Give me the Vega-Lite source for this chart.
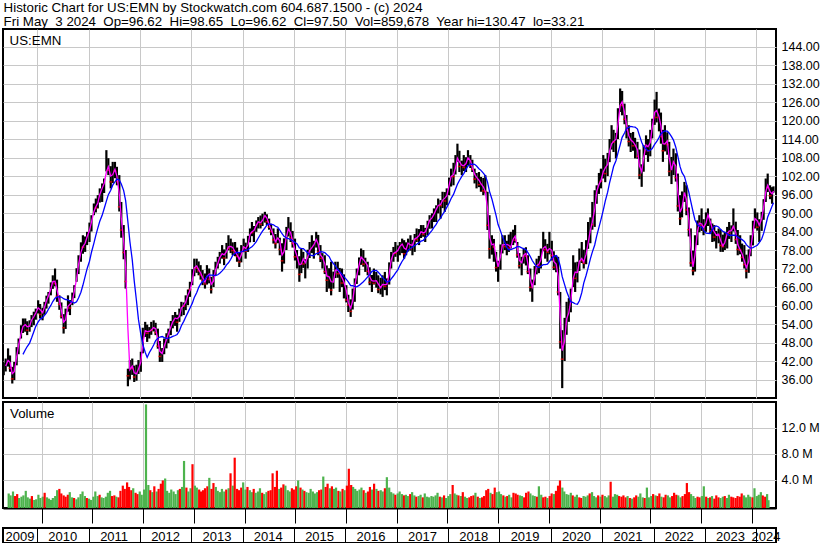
{
"$schema":"https://vega.github.io/schema/vega-lite/v6.json",
"background":"white",
"padding":{"left":1,"top":0,"right":0,"bottom":0},
"spacing":2,
"title":{"text":["Historic Chart for US:EMN by Stockwatch.com 604.687.1500 - (c) 2024","Fri May\u00a0 3 2024\u00a0 Op=96.62\u00a0 Hi=98.65\u00a0 Lo=96.62\u00a0 Cl=97.50\u00a0 Vol=859,678\u00a0 Year hi=130.47\u00a0 lo=33.21"],"anchor":"start","font":"Liberation Sans","fontSize":13.3,"fontWeight":"normal","color":"black","lineHeight":14,"offset":0,"dx":2},
"config":{"view":{"stroke":"black","strokeWidth":2},"axis":{"labelFont":"Liberation Sans","labelFontSize":12.5,"labelColor":"black","labelOverlap":false,"title":null,"gridColor":"#c8c8c8","gridWidth":1,"gridOpacity":1}},
"datasets":{
"px":[
{"d":"2009-05-08","h":41.5,"l":37.4,"c":39.8,"v":1.9,"t":"u"},
{"d":"2009-05-22","h":42.8,"l":38.6,"c":40.9,"v":1.6,"t":"u"},
{"d":"2009-06-08","h":46.1,"l":40.2,"c":43.5,"v":2.2,"t":"u"},
{"d":"2009-06-22","h":43.8,"l":38.5,"c":39.6,"v":1.5,"t":"d"},
{"d":"2009-07-08","h":40.1,"l":34.7,"c":36.2,"v":1.8,"t":"d"},
{"d":"2009-07-22","h":41.7,"l":35.8,"c":40.8,"v":1.2,"t":"u"},
{"d":"2009-08-08","h":46.5,"l":40.6,"c":45.8,"v":1.4,"t":"u"},
{"d":"2009-08-22","h":49.3,"l":44.2,"c":48.6,"v":1.6,"t":"u"},
{"d":"2009-09-08","h":53.6,"l":49.3,"c":52.9,"v":2.3,"t":"u"},
{"d":"2009-09-22","h":55.8,"l":51.1,"c":53.4,"v":1.3,"t":"u"},
{"d":"2009-10-08","h":55.8,"l":51.5,"c":54.2,"v":1.1,"t":"u"},
{"d":"2009-10-22","h":54.9,"l":50.4,"c":52.0,"v":1.5,"t":"d"},
{"d":"2009-11-08","h":55.2,"l":51.5,"c":54.6,"v":0.9,"t":"u"},
{"d":"2009-11-22","h":56.9,"l":53.0,"c":55.9,"v":1.0,"t":"u"},
{"d":"2009-12-08","h":58.0,"l":53.6,"c":56.8,"v":1.7,"t":"u"},
{"d":"2009-12-22","h":59.0,"l":55.4,"c":58.3,"v":1.2,"t":"u"},
{"d":"2010-01-08","h":61.7,"l":57.4,"c":60.2,"v":1.4,"t":"u"},
{"d":"2010-01-22","h":60.5,"l":55.8,"c":57.1,"v":2.0,"t":"d"},
{"d":"2010-02-08","h":59.3,"l":55.2,"c":58.2,"v":1.3,"t":"u"},
{"d":"2010-02-22","h":61.2,"l":57.0,"c":60.6,"v":1.1,"t":"u"},
{"d":"2010-03-08","h":63.2,"l":59.0,"c":62.5,"v":0.9,"t":"u"},
{"d":"2010-03-22","h":64.4,"l":60.6,"c":63.8,"v":1.2,"t":"u"},
{"d":"2010-04-08","h":67.5,"l":63.3,"c":66.9,"v":1.5,"t":"u"},
{"d":"2010-04-22","h":69.8,"l":65.4,"c":68.6,"v":2.4,"t":"u"},
{"d":"2010-05-08","h":72.0,"l":66.2,"c":67.1,"v":2.6,"t":"d"},
{"d":"2010-05-22","h":68.4,"l":61.2,"c":63.0,"v":1.9,"t":"d"},
{"d":"2010-06-08","h":63.3,"l":58.6,"c":60.4,"v":1.6,"t":"d"},
{"d":"2010-06-22","h":61.0,"l":55.8,"c":56.5,"v":1.4,"t":"d"},
{"d":"2010-07-08","h":57.2,"l":50.9,"c":52.8,"v":1.7,"t":"d"},
{"d":"2010-07-22","h":59.0,"l":52.4,"c":57.9,"v":2.1,"t":"u"},
{"d":"2010-08-08","h":63.3,"l":58.0,"c":61.6,"v":1.3,"t":"u"},
{"d":"2010-08-22","h":61.8,"l":56.9,"c":59.2,"v":1.2,"t":"d"},
{"d":"2010-09-08","h":64.2,"l":60.1,"c":63.5,"v":1.0,"t":"u"},
{"d":"2010-09-22","h":66.6,"l":62.4,"c":65.8,"v":1.3,"t":"u"},
{"d":"2010-10-08","h":72.1,"l":67.7,"c":71.4,"v":1.8,"t":"u"},
{"d":"2010-10-22","h":76.3,"l":70.2,"c":75.2,"v":2.2,"t":"u"},
{"d":"2010-11-08","h":80.5,"l":74.2,"c":79.3,"v":1.5,"t":"u"},
{"d":"2010-11-22","h":82.8,"l":76.8,"c":78.9,"v":1.2,"t":"d"},
{"d":"2010-12-08","h":82.4,"l":77.4,"c":81.5,"v":1.1,"t":"u"},
{"d":"2010-12-22","h":83.9,"l":79.6,"c":83.1,"v":0.9,"t":"u"},
{"d":"2011-01-08","h":86.9,"l":80.6,"c":85.7,"v":1.4,"t":"u"},
{"d":"2011-01-22","h":89.3,"l":84.0,"c":88.4,"v":2.2,"t":"u"},
{"d":"2011-02-08","h":93.1,"l":89.3,"c":92.5,"v":1.5,"t":"u"},
{"d":"2011-02-22","h":94.7,"l":90.2,"c":91.6,"v":1.7,"t":"d"},
{"d":"2011-03-08","h":95.8,"l":91.5,"c":94.9,"v":1.3,"t":"u"},
{"d":"2011-03-22","h":98.0,"l":93.4,"c":97.2,"v":1.2,"t":"u"},
{"d":"2011-04-08","h":99.6,"l":93.6,"c":98.8,"v":1.4,"t":"u"},
{"d":"2011-04-22","h":101.2,"l":96.5,"c":100.4,"v":2.0,"t":"u"},
{"d":"2011-05-08","h":110.4,"l":103.5,"c":106.2,"v":2.3,"t":"u"},
{"d":"2011-05-22","h":107.8,"l":102.3,"c":103.9,"v":1.5,"t":"d"},
{"d":"2011-06-08","h":105.2,"l":98.0,"c":100.1,"v":1.6,"t":"d"},
{"d":"2011-06-22","h":106.6,"l":99.7,"c":104.8,"v":1.4,"t":"u"},
{"d":"2011-07-08","h":106.6,"l":101.3,"c":103.6,"v":1.3,"t":"d"},
{"d":"2011-07-22","h":105.0,"l":99.0,"c":100.2,"v":2.3,"t":"d"},
{"d":"2011-08-08","h":102.3,"l":90.5,"c":92.0,"v":3.1,"t":"d"},
{"d":"2011-08-22","h":93.6,"l":82.0,"c":84.5,"v":2.6,"t":"d"},
{"d":"2011-09-08","h":86.1,"l":75.0,"c":77.2,"v":3.6,"t":"d"},
{"d":"2011-09-22","h":78.0,"l":65.5,"c":67.8,"v":2.9,"t":"d"},
{"d":"2011-10-08","h":39.5,"l":33.8,"c":37.2,"v":2.4,"t":"d"},
{"d":"2011-10-22","h":42.3,"l":36.0,"c":41.1,"v":2.7,"t":"u"},
{"d":"2011-11-08","h":42.8,"l":37.5,"c":39.6,"v":2.0,"t":"d"},
{"d":"2011-11-22","h":40.5,"l":35.2,"c":36.8,"v":1.8,"t":"d"},
{"d":"2011-12-08","h":40.8,"l":35.6,"c":38.9,"v":2.2,"t":"u"},
{"d":"2011-12-22","h":42.3,"l":37.8,"c":39.8,"v":1.7,"t":"u"},
{"d":"2012-01-08","h":45.0,"l":38.5,"c":43.6,"v":2.5,"t":"u"},
{"d":"2012-01-22","h":52.8,"l":44.5,"c":51.6,"v":15.6,"t":"u"},
{"d":"2012-02-08","h":54.7,"l":49.8,"c":52.1,"v":3.2,"t":"u"},
{"d":"2012-02-22","h":53.8,"l":48.2,"c":51.0,"v":2.4,"t":"d"},
{"d":"2012-03-08","h":53.0,"l":49.3,"c":52.2,"v":2.1,"t":"u"},
{"d":"2012-03-22","h":54.7,"l":50.5,"c":51.9,"v":3.0,"t":"d"},
{"d":"2012-04-08","h":55.2,"l":51.6,"c":53.8,"v":2.2,"t":"u"},
{"d":"2012-04-22","h":54.4,"l":50.4,"c":51.2,"v":2.6,"t":"d"},
{"d":"2012-05-08","h":52.5,"l":46.0,"c":46.8,"v":3.4,"t":"d"},
{"d":"2012-05-22","h":48.5,"l":41.7,"c":43.5,"v":3.9,"t":"d"},
{"d":"2012-06-08","h":46.2,"l":41.7,"c":45.4,"v":4.2,"t":"u"},
{"d":"2012-06-22","h":49.3,"l":44.2,"c":48.1,"v":2.3,"t":"u"},
{"d":"2012-07-08","h":51.0,"l":46.1,"c":49.7,"v":2.0,"t":"u"},
{"d":"2012-07-22","h":52.5,"l":47.8,"c":51.8,"v":2.5,"t":"u"},
{"d":"2012-08-08","h":55.0,"l":50.4,"c":54.3,"v":2.2,"t":"u"},
{"d":"2012-08-22","h":56.9,"l":52.6,"c":55.1,"v":1.8,"t":"u"},
{"d":"2012-09-08","h":57.9,"l":53.4,"c":56.8,"v":2.4,"t":"u"},
{"d":"2012-09-22","h":57.0,"l":51.5,"c":54.6,"v":2.6,"t":"d"},
{"d":"2012-10-08","h":59.0,"l":54.7,"c":58.1,"v":2.9,"t":"u"},
{"d":"2012-10-22","h":61.2,"l":56.5,"c":60.3,"v":6.9,"t":"u"},
{"d":"2012-11-08","h":61.0,"l":56.9,"c":59.8,"v":2.8,"t":"d"},
{"d":"2012-11-22","h":63.3,"l":58.5,"c":62.4,"v":2.2,"t":"u"},
{"d":"2012-12-08","h":65.2,"l":60.1,"c":64.5,"v":2.7,"t":"u"},
{"d":"2012-12-22","h":67.7,"l":62.8,"c":65.2,"v":6.4,"t":"d"},
{"d":"2013-01-08","h":71.8,"l":66.6,"c":70.9,"v":3.1,"t":"u"},
{"d":"2013-01-22","h":75.2,"l":69.5,"c":73.6,"v":2.8,"t":"u"},
{"d":"2013-02-08","h":75.2,"l":70.6,"c":72.1,"v":2.5,"t":"d"},
{"d":"2013-02-22","h":74.3,"l":69.8,"c":71.2,"v":2.2,"t":"d"},
{"d":"2013-03-08","h":73.1,"l":68.4,"c":69.9,"v":2.4,"t":"d"},
{"d":"2013-03-22","h":71.5,"l":66.6,"c":68.2,"v":2.7,"t":"d"},
{"d":"2013-04-08","h":70.4,"l":65.5,"c":67.0,"v":3.0,"t":"d"},
{"d":"2013-04-22","h":73.1,"l":66.8,"c":71.9,"v":4.3,"t":"u"},
{"d":"2013-05-08","h":72.0,"l":67.2,"c":68.5,"v":2.6,"t":"d"},
{"d":"2013-05-22","h":69.3,"l":63.9,"c":65.2,"v":3.5,"t":"d"},
{"d":"2013-06-08","h":71.5,"l":66.0,"c":70.6,"v":2.9,"t":"u"},
{"d":"2013-06-22","h":74.2,"l":69.8,"c":72.3,"v":2.3,"t":"u"},
{"d":"2013-07-08","h":75.8,"l":72.0,"c":75.0,"v":2.1,"t":"u"},
{"d":"2013-07-22","h":77.4,"l":73.6,"c":76.1,"v":2.6,"t":"u"},
{"d":"2013-08-08","h":79.6,"l":75.2,"c":77.5,"v":2.2,"t":"u"},
{"d":"2013-08-22","h":78.2,"l":73.1,"c":75.4,"v":2.5,"t":"d"},
{"d":"2013-09-08","h":80.3,"l":75.2,"c":79.6,"v":2.7,"t":"u"},
{"d":"2013-09-22","h":82.8,"l":77.9,"c":78.5,"v":5.0,"t":"d"},
{"d":"2013-10-08","h":81.7,"l":77.0,"c":79.9,"v":3.1,"t":"u"},
{"d":"2013-10-22","h":80.5,"l":76.3,"c":77.8,"v":7.4,"t":"d"},
{"d":"2013-11-08","h":80.6,"l":76.0,"c":77.1,"v":2.6,"t":"d"},
{"d":"2013-11-22","h":78.8,"l":74.2,"c":75.9,"v":2.4,"t":"d"},
{"d":"2013-12-08","h":77.2,"l":72.5,"c":74.1,"v":2.8,"t":"d"},
{"d":"2013-12-22","h":79.6,"l":74.0,"c":78.7,"v":3.6,"t":"u"},
{"d":"2014-01-08","h":81.7,"l":77.3,"c":79.4,"v":2.5,"t":"u"},
{"d":"2014-01-22","h":80.4,"l":75.2,"c":77.6,"v":2.9,"t":"d"},
{"d":"2014-02-08","h":82.6,"l":77.4,"c":81.8,"v":2.4,"t":"u"},
{"d":"2014-02-22","h":85.0,"l":80.5,"c":84.3,"v":2.1,"t":"u"},
{"d":"2014-03-08","h":87.1,"l":82.5,"c":83.6,"v":2.6,"t":"d"},
{"d":"2014-03-22","h":85.8,"l":80.6,"c":85.1,"v":2.0,"t":"u"},
{"d":"2014-04-08","h":87.6,"l":83.9,"c":86.9,"v":2.2,"t":"u"},
{"d":"2014-04-22","h":88.7,"l":85.0,"c":87.4,"v":2.7,"t":"u"},
{"d":"2014-05-08","h":89.2,"l":85.0,"c":86.3,"v":2.0,"t":"d"},
{"d":"2014-05-22","h":89.8,"l":85.8,"c":88.9,"v":1.8,"t":"u"},
{"d":"2014-06-08","h":90.4,"l":86.9,"c":89.5,"v":2.1,"t":"u"},
{"d":"2014-06-22","h":89.6,"l":86.1,"c":87.2,"v":2.3,"t":"d"},
{"d":"2014-07-08","h":88.2,"l":84.6,"c":85.4,"v":2.4,"t":"d"},
{"d":"2014-07-22","h":86.5,"l":82.8,"c":84.0,"v":5.0,"t":"d"},
{"d":"2014-08-08","h":85.0,"l":80.1,"c":81.3,"v":2.9,"t":"d"},
{"d":"2014-08-22","h":83.2,"l":78.5,"c":80.1,"v":5.4,"t":"d"},
{"d":"2014-09-08","h":85.0,"l":80.2,"c":83.8,"v":2.6,"t":"u"},
{"d":"2014-09-22","h":82.0,"l":76.3,"c":78.2,"v":2.8,"t":"d"},
{"d":"2014-10-08","h":80.2,"l":71.0,"c":74.5,"v":3.3,"t":"d"},
{"d":"2014-10-22","h":81.8,"l":73.6,"c":80.5,"v":3.1,"t":"u"},
{"d":"2014-11-08","h":85.5,"l":78.0,"c":84.2,"v":2.4,"t":"u"},
{"d":"2014-11-22","h":88.7,"l":82.4,"c":85.3,"v":2.2,"t":"u"},
{"d":"2014-12-08","h":87.0,"l":80.6,"c":81.9,"v":2.7,"t":"d"},
{"d":"2014-12-22","h":84.2,"l":78.8,"c":80.1,"v":2.5,"t":"d"},
{"d":"2015-01-08","h":81.7,"l":74.6,"c":75.8,"v":3.0,"t":"d"},
{"d":"2015-01-22","h":78.0,"l":72.0,"c":76.4,"v":3.9,"t":"u"},
{"d":"2015-02-08","h":76.0,"l":67.7,"c":70.1,"v":2.8,"t":"d"},
{"d":"2015-02-22","h":78.5,"l":70.5,"c":76.8,"v":2.5,"t":"u"},
{"d":"2015-03-08","h":77.4,"l":72.2,"c":73.5,"v":2.3,"t":"d"},
{"d":"2015-03-22","h":75.0,"l":68.8,"c":74.3,"v":2.1,"t":"u"},
{"d":"2015-04-08","h":78.1,"l":72.0,"c":77.2,"v":2.0,"t":"u"},
{"d":"2015-04-22","h":80.6,"l":75.4,"c":78.5,"v":2.6,"t":"u"},
{"d":"2015-05-08","h":82.8,"l":77.0,"c":79.1,"v":2.2,"t":"u"},
{"d":"2015-05-22","h":81.0,"l":75.2,"c":80.2,"v":1.9,"t":"u"},
{"d":"2015-06-08","h":83.9,"l":78.8,"c":82.6,"v":2.1,"t":"u"},
{"d":"2015-06-22","h":82.9,"l":76.3,"c":77.4,"v":2.4,"t":"d"},
{"d":"2015-07-08","h":79.6,"l":74.1,"c":75.3,"v":2.5,"t":"d"},
{"d":"2015-07-22","h":77.0,"l":72.0,"c":76.0,"v":4.5,"t":"u"},
{"d":"2015-08-08","h":76.3,"l":70.2,"c":71.0,"v":2.9,"t":"d"},
{"d":"2015-08-22","h":73.0,"l":64.4,"c":68.2,"v":3.4,"t":"d"},
{"d":"2015-09-08","h":72.1,"l":65.5,"c":70.4,"v":2.7,"t":"u"},
{"d":"2015-09-22","h":74.2,"l":63.3,"c":65.0,"v":3.0,"t":"d"},
{"d":"2015-10-08","h":71.0,"l":65.5,"c":70.2,"v":2.6,"t":"u"},
{"d":"2015-10-22","h":74.2,"l":68.9,"c":72.8,"v":2.8,"t":"u"},
{"d":"2015-11-08","h":74.2,"l":69.0,"c":70.3,"v":2.3,"t":"d"},
{"d":"2015-11-22","h":72.2,"l":64.4,"c":70.8,"v":2.2,"t":"u"},
{"d":"2015-12-08","h":72.0,"l":66.0,"c":67.3,"v":2.6,"t":"d"},
{"d":"2015-12-22","h":70.1,"l":62.3,"c":67.9,"v":2.4,"t":"u"},
{"d":"2016-01-08","h":66.6,"l":61.0,"c":61.8,"v":3.1,"t":"d"},
{"d":"2016-01-22","h":63.5,"l":57.9,"c":60.2,"v":5.7,"t":"d"},
{"d":"2016-02-08","h":62.0,"l":56.3,"c":58.1,"v":3.2,"t":"d"},
{"d":"2016-02-22","h":65.5,"l":58.7,"c":64.8,"v":2.9,"t":"u"},
{"d":"2016-03-08","h":68.8,"l":61.2,"c":68.0,"v":2.6,"t":"u"},
{"d":"2016-03-22","h":72.0,"l":67.0,"c":71.4,"v":2.3,"t":"u"},
{"d":"2016-04-08","h":75.6,"l":69.8,"c":74.9,"v":2.5,"t":"u"},
{"d":"2016-04-22","h":78.5,"l":73.2,"c":76.5,"v":2.8,"t":"u"},
{"d":"2016-05-08","h":78.0,"l":72.6,"c":73.4,"v":2.4,"t":"d"},
{"d":"2016-05-22","h":75.5,"l":70.9,"c":74.7,"v":2.0,"t":"u"},
{"d":"2016-06-08","h":74.2,"l":69.8,"c":71.1,"v":2.2,"t":"d"},
{"d":"2016-06-22","h":72.4,"l":66.6,"c":67.5,"v":2.9,"t":"d"},
{"d":"2016-07-08","h":69.9,"l":64.4,"c":68.6,"v":2.5,"t":"u"},
{"d":"2016-07-22","h":72.0,"l":66.8,"c":67.2,"v":3.4,"t":"d"},
{"d":"2016-08-08","h":70.9,"l":65.8,"c":68.9,"v":2.6,"t":"u"},
{"d":"2016-08-22","h":69.8,"l":64.0,"c":65.2,"v":2.3,"t":"d"},
{"d":"2016-09-08","h":69.0,"l":63.6,"c":66.4,"v":2.4,"t":"u"},
{"d":"2016-09-22","h":69.8,"l":62.8,"c":67.3,"v":2.2,"t":"u"},
{"d":"2016-10-08","h":70.9,"l":65.0,"c":66.2,"v":2.7,"t":"d"},
{"d":"2016-10-22","h":68.8,"l":63.3,"c":67.5,"v":4.4,"t":"u"},
{"d":"2016-11-08","h":74.0,"l":66.8,"c":73.2,"v":2.8,"t":"u"},
{"d":"2016-11-22","h":77.4,"l":72.0,"c":76.2,"v":2.1,"t":"u"},
{"d":"2016-12-08","h":79.0,"l":74.2,"c":77.6,"v":1.9,"t":"u"},
{"d":"2016-12-22","h":80.6,"l":75.8,"c":76.9,"v":1.7,"t":"d"},
{"d":"2017-01-08","h":79.5,"l":74.2,"c":78.8,"v":1.9,"t":"u"},
{"d":"2017-01-22","h":80.6,"l":76.3,"c":79.4,"v":2.2,"t":"u"},
{"d":"2017-02-08","h":81.7,"l":77.0,"c":80.5,"v":1.8,"t":"u"},
{"d":"2017-02-22","h":81.2,"l":75.2,"c":76.8,"v":1.6,"t":"d"},
{"d":"2017-03-08","h":80.5,"l":76.3,"c":79.6,"v":1.7,"t":"u"},
{"d":"2017-03-22","h":81.7,"l":77.5,"c":80.9,"v":1.5,"t":"u"},
{"d":"2017-04-08","h":82.8,"l":77.8,"c":78.4,"v":1.8,"t":"d"},
{"d":"2017-04-22","h":81.3,"l":76.3,"c":80.7,"v":2.1,"t":"u"},
{"d":"2017-05-08","h":83.2,"l":77.4,"c":82.5,"v":1.6,"t":"u"},
{"d":"2017-05-22","h":85.0,"l":80.6,"c":81.4,"v":1.4,"t":"d"},
{"d":"2017-06-08","h":84.8,"l":79.6,"c":83.9,"v":1.5,"t":"u"},
{"d":"2017-06-22","h":86.1,"l":81.9,"c":84.0,"v":1.7,"t":"u"},
{"d":"2017-07-08","h":86.1,"l":82.3,"c":83.1,"v":1.3,"t":"d"},
{"d":"2017-07-22","h":85.2,"l":80.6,"c":84.6,"v":1.9,"t":"u"},
{"d":"2017-08-08","h":87.5,"l":82.8,"c":86.8,"v":1.4,"t":"u"},
{"d":"2017-08-22","h":89.3,"l":84.9,"c":88.4,"v":1.3,"t":"u"},
{"d":"2017-09-08","h":89.9,"l":85.0,"c":88.5,"v":1.5,"t":"u"},
{"d":"2017-09-22","h":91.5,"l":87.1,"c":90.6,"v":1.4,"t":"u"},
{"d":"2017-10-08","h":92.5,"l":87.1,"c":91.8,"v":1.6,"t":"u"},
{"d":"2017-10-22","h":94.7,"l":89.9,"c":93.1,"v":2.0,"t":"u"},
{"d":"2017-11-08","h":94.2,"l":88.2,"c":92.4,"v":1.4,"t":"d"},
{"d":"2017-11-22","h":96.9,"l":91.6,"c":95.8,"v":1.3,"t":"u"},
{"d":"2017-12-08","h":96.8,"l":90.4,"c":93.9,"v":1.6,"t":"d"},
{"d":"2017-12-22","h":98.0,"l":92.5,"c":97.2,"v":1.2,"t":"u"},
{"d":"2018-01-08","h":101.5,"l":95.8,"c":100.7,"v":1.5,"t":"u"},
{"d":"2018-01-22","h":104.4,"l":98.6,"c":103.1,"v":1.8,"t":"u"},
{"d":"2018-02-08","h":106.3,"l":99.0,"c":101.8,"v":3.2,"t":"d"},
{"d":"2018-02-22","h":108.8,"l":102.5,"c":107.4,"v":1.9,"t":"u"},
{"d":"2018-03-08","h":112.5,"l":106.6,"c":108.2,"v":1.7,"t":"u"},
{"d":"2018-03-22","h":110.2,"l":103.3,"c":105.1,"v":1.6,"t":"d"},
{"d":"2018-04-08","h":107.0,"l":102.3,"c":105.9,"v":1.5,"t":"u"},
{"d":"2018-04-22","h":108.8,"l":103.6,"c":104.8,"v":2.1,"t":"d"},
{"d":"2018-05-08","h":108.1,"l":103.3,"c":107.3,"v":1.4,"t":"u"},
{"d":"2018-05-22","h":110.4,"l":105.4,"c":108.6,"v":1.2,"t":"u"},
{"d":"2018-06-08","h":108.8,"l":104.6,"c":105.5,"v":1.3,"t":"d"},
{"d":"2018-06-22","h":107.3,"l":103.3,"c":104.2,"v":1.5,"t":"d"},
{"d":"2018-07-08","h":104.4,"l":99.6,"c":101.0,"v":1.6,"t":"d"},
{"d":"2018-07-22","h":103.0,"l":98.0,"c":102.1,"v":2.0,"t":"u"},
{"d":"2018-08-08","h":103.3,"l":98.4,"c":99.2,"v":1.4,"t":"d"},
{"d":"2018-08-22","h":101.7,"l":96.9,"c":99.8,"v":1.2,"t":"u"},
{"d":"2018-09-08","h":101.4,"l":95.8,"c":97.2,"v":1.3,"t":"d"},
{"d":"2018-09-22","h":102.3,"l":96.4,"c":96.9,"v":1.5,"t":"d"},
{"d":"2018-10-08","h":96.9,"l":84.5,"c":86.0,"v":2.4,"t":"d"},
{"d":"2018-10-22","h":89.3,"l":75.2,"c":78.4,"v":2.6,"t":"d"},
{"d":"2018-11-08","h":82.8,"l":76.5,"c":80.9,"v":2.0,"t":"u"},
{"d":"2018-11-22","h":81.6,"l":74.2,"c":79.0,"v":1.8,"t":"d"},
{"d":"2018-12-08","h":77.4,"l":71.0,"c":72.3,"v":2.8,"t":"d"},
{"d":"2018-12-22","h":74.5,"l":67.7,"c":72.8,"v":2.1,"t":"u"},
{"d":"2019-01-08","h":79.8,"l":71.6,"c":78.9,"v":2.2,"t":"u"},
{"d":"2019-01-22","h":82.8,"l":76.9,"c":80.4,"v":1.8,"t":"u"},
{"d":"2019-02-08","h":82.8,"l":78.0,"c":79.1,"v":1.6,"t":"d"},
{"d":"2019-02-22","h":81.0,"l":76.3,"c":80.5,"v":1.4,"t":"u"},
{"d":"2019-03-08","h":83.0,"l":77.4,"c":78.6,"v":1.5,"t":"d"},
{"d":"2019-03-22","h":83.9,"l":78.5,"c":79.2,"v":1.7,"t":"u"},
{"d":"2019-04-08","h":84.6,"l":79.6,"c":83.8,"v":1.3,"t":"u"},
{"d":"2019-04-22","h":86.1,"l":80.4,"c":81.2,"v":2.0,"t":"d"},
{"d":"2019-05-08","h":80.6,"l":75.5,"c":76.4,"v":1.9,"t":"d"},
{"d":"2019-05-22","h":77.0,"l":72.0,"c":72.9,"v":1.7,"t":"d"},
{"d":"2019-06-08","h":75.8,"l":69.8,"c":74.9,"v":1.6,"t":"u"},
{"d":"2019-06-22","h":78.5,"l":73.6,"c":77.8,"v":1.5,"t":"u"},
{"d":"2019-07-08","h":78.9,"l":73.0,"c":76.0,"v":1.3,"t":"d"},
{"d":"2019-07-22","h":76.3,"l":70.2,"c":71.0,"v":2.0,"t":"d"},
{"d":"2019-08-08","h":72.0,"l":64.5,"c":65.9,"v":2.2,"t":"d"},
{"d":"2019-08-22","h":68.4,"l":61.2,"c":66.1,"v":1.9,"t":"u"},
{"d":"2019-09-08","h":72.8,"l":66.6,"c":71.9,"v":1.6,"t":"u"},
{"d":"2019-09-22","h":75.2,"l":70.1,"c":74.0,"v":1.5,"t":"u"},
{"d":"2019-10-08","h":76.1,"l":70.5,"c":72.8,"v":1.4,"t":"d"},
{"d":"2019-10-22","h":78.5,"l":72.0,"c":76.9,"v":3.0,"t":"u"},
{"d":"2019-11-08","h":83.9,"l":77.6,"c":80.2,"v":1.7,"t":"u"},
{"d":"2019-11-22","h":81.5,"l":75.2,"c":78.1,"v":1.3,"t":"d"},
{"d":"2019-12-08","h":80.0,"l":74.2,"c":77.3,"v":1.4,"t":"d"},
{"d":"2019-12-22","h":83.9,"l":76.6,"c":79.6,"v":1.2,"t":"u"},
{"d":"2020-01-08","h":81.0,"l":74.6,"c":76.2,"v":1.5,"t":"d"},
{"d":"2020-01-22","h":77.6,"l":71.5,"c":72.4,"v":1.9,"t":"d"},
{"d":"2020-02-08","h":76.3,"l":70.8,"c":74.5,"v":1.8,"t":"u"},
{"d":"2020-02-22","h":75.8,"l":63.3,"c":64.4,"v":2.3,"t":"d"},
{"d":"2020-03-08","h":64.4,"l":46.0,"c":48.2,"v":3.1,"t":"d"},
{"d":"2020-03-22","h":52.0,"l":33.2,"c":42.6,"v":3.9,"t":"d"},
{"d":"2020-04-08","h":56.0,"l":42.0,"c":54.3,"v":2.8,"t":"u"},
{"d":"2020-04-22","h":61.2,"l":50.5,"c":56.9,"v":2.2,"t":"u"},
{"d":"2020-05-08","h":62.4,"l":54.7,"c":58.5,"v":1.8,"t":"u"},
{"d":"2020-05-22","h":65.5,"l":57.8,"c":64.6,"v":1.7,"t":"u"},
{"d":"2020-06-08","h":76.3,"l":66.0,"c":72.9,"v":2.0,"t":"u"},
{"d":"2020-06-22","h":74.0,"l":64.4,"c":68.8,"v":1.6,"t":"d"},
{"d":"2020-07-08","h":74.2,"l":67.5,"c":72.6,"v":1.4,"t":"u"},
{"d":"2020-07-22","h":78.5,"l":71.2,"c":76.1,"v":1.7,"t":"u"},
{"d":"2020-08-08","h":80.6,"l":73.8,"c":74.5,"v":1.3,"t":"d"},
{"d":"2020-08-22","h":78.1,"l":72.0,"c":73.7,"v":1.2,"t":"d"},
{"d":"2020-09-08","h":81.2,"l":73.4,"c":79.6,"v":1.5,"t":"u"},
{"d":"2020-09-22","h":87.1,"l":78.4,"c":80.8,"v":1.4,"t":"u"},
{"d":"2020-10-08","h":88.6,"l":80.2,"c":87.9,"v":1.6,"t":"u"},
{"d":"2020-10-22","h":93.6,"l":84.6,"c":86.2,"v":1.9,"t":"d"},
{"d":"2020-11-08","h":97.4,"l":85.5,"c":96.1,"v":2.1,"t":"u"},
{"d":"2020-11-22","h":99.0,"l":93.0,"c":97.8,"v":1.5,"t":"u"},
{"d":"2020-12-08","h":103.0,"l":96.2,"c":100.7,"v":1.3,"t":"u"},
{"d":"2020-12-22","h":104.4,"l":98.0,"c":100.3,"v":1.6,"t":"d"},
{"d":"2021-01-08","h":108.8,"l":101.2,"c":106.5,"v":1.4,"t":"u"},
{"d":"2021-01-22","h":107.6,"l":100.0,"c":102.8,"v":1.7,"t":"d"},
{"d":"2021-02-08","h":109.5,"l":102.0,"c":108.7,"v":1.5,"t":"u"},
{"d":"2021-02-22","h":114.0,"l":106.5,"c":111.4,"v":1.3,"t":"u"},
{"d":"2021-03-08","h":118.5,"l":110.6,"c":113.5,"v":1.6,"t":"u"},
{"d":"2021-03-22","h":117.0,"l":109.8,"c":113.0,"v":3.7,"t":"d"},
{"d":"2021-04-08","h":116.0,"l":107.7,"c":114.8,"v":1.4,"t":"u"},
{"d":"2021-04-22","h":124.0,"l":114.0,"c":122.6,"v":1.8,"t":"u"},
{"d":"2021-05-08","h":130.4,"l":122.8,"c":127.3,"v":1.7,"t":"u"},
{"d":"2021-05-22","h":129.6,"l":121.7,"c":124.9,"v":1.5,"t":"d"},
{"d":"2021-06-08","h":125.5,"l":118.8,"c":120.4,"v":1.4,"t":"d"},
{"d":"2021-06-22","h":121.8,"l":114.2,"c":117.0,"v":1.6,"t":"d"},
{"d":"2021-07-08","h":118.5,"l":111.6,"c":113.2,"v":1.3,"t":"d"},
{"d":"2021-07-22","h":116.0,"l":109.8,"c":114.3,"v":1.5,"t":"u"},
{"d":"2021-08-08","h":116.3,"l":110.2,"c":111.8,"v":1.2,"t":"d"},
{"d":"2021-08-22","h":114.4,"l":107.7,"c":112.5,"v":1.1,"t":"u"},
{"d":"2021-09-08","h":113.1,"l":107.6,"c":108.4,"v":1.3,"t":"d"},
{"d":"2021-09-22","h":110.6,"l":101.0,"c":102.3,"v":1.6,"t":"d"},
{"d":"2021-10-08","h":105.8,"l":98.5,"c":104.6,"v":1.4,"t":"u"},
{"d":"2021-10-22","h":112.0,"l":103.4,"c":111.2,"v":1.9,"t":"u"},
{"d":"2021-11-08","h":115.2,"l":108.8,"c":112.9,"v":1.3,"t":"u"},
{"d":"2021-11-22","h":114.0,"l":106.6,"c":110.1,"v":1.2,"t":"d"},
{"d":"2021-12-08","h":117.0,"l":108.4,"c":115.6,"v":2.8,"t":"u"},
{"d":"2021-12-22","h":120.6,"l":114.2,"c":119.8,"v":1.3,"t":"u"},
{"d":"2022-01-08","h":126.8,"l":118.6,"c":125.5,"v":1.5,"t":"u"},
{"d":"2022-01-22","h":129.3,"l":119.4,"c":121.0,"v":1.8,"t":"d"},
{"d":"2022-02-08","h":123.9,"l":116.5,"c":121.7,"v":1.6,"t":"u"},
{"d":"2022-02-22","h":122.6,"l":112.5,"c":114.8,"v":1.5,"t":"d"},
{"d":"2022-03-08","h":117.0,"l":106.6,"c":110.2,"v":1.9,"t":"d"},
{"d":"2022-03-22","h":118.5,"l":110.0,"c":114.6,"v":1.4,"t":"u"},
{"d":"2022-04-08","h":116.2,"l":108.9,"c":112.2,"v":1.3,"t":"d"},
{"d":"2022-04-22","h":113.1,"l":102.0,"c":103.5,"v":1.7,"t":"d"},
{"d":"2022-05-08","h":108.2,"l":99.4,"c":104.3,"v":1.6,"t":"u"},
{"d":"2022-05-22","h":110.9,"l":102.3,"c":108.9,"v":1.3,"t":"u"},
{"d":"2022-06-08","h":109.4,"l":100.2,"c":101.5,"v":1.5,"t":"d"},
{"d":"2022-06-22","h":102.8,"l":90.5,"c":92.3,"v":2.0,"t":"d"},
{"d":"2022-07-08","h":95.8,"l":86.1,"c":88.2,"v":1.7,"t":"d"},
{"d":"2022-07-22","h":97.0,"l":88.6,"c":95.4,"v":1.6,"t":"u"},
{"d":"2022-08-08","h":100.1,"l":93.6,"c":97.9,"v":1.3,"t":"u"},
{"d":"2022-08-22","h":99.0,"l":89.3,"c":91.0,"v":1.5,"t":"d"},
{"d":"2022-09-08","h":91.8,"l":82.4,"c":84.6,"v":1.8,"t":"d"},
{"d":"2022-09-22","h":85.0,"l":72.6,"c":73.8,"v":3.5,"t":"d"},
{"d":"2022-10-08","h":77.8,"l":69.8,"c":71.3,"v":2.1,"t":"d"},
{"d":"2022-10-22","h":82.8,"l":71.0,"c":81.4,"v":1.8,"t":"u"},
{"d":"2022-11-08","h":87.6,"l":79.6,"c":86.5,"v":1.5,"t":"u"},
{"d":"2022-11-22","h":89.3,"l":83.8,"c":87.0,"v":1.2,"t":"u"},
{"d":"2022-12-08","h":91.5,"l":84.2,"c":85.9,"v":1.4,"t":"d"},
{"d":"2022-12-22","h":88.0,"l":82.8,"c":84.6,"v":1.3,"t":"d"},
{"d":"2023-01-08","h":90.2,"l":83.9,"c":88.7,"v":1.5,"t":"u"},
{"d":"2023-01-22","h":91.5,"l":85.8,"c":90.1,"v":3.0,"t":"u"},
{"d":"2023-02-08","h":88.2,"l":83.2,"c":84.3,"v":1.4,"t":"d"},
{"d":"2023-02-22","h":86.6,"l":80.6,"c":85.6,"v":1.2,"t":"u"},
{"d":"2023-03-08","h":86.1,"l":80.8,"c":82.2,"v":1.3,"t":"d"},
{"d":"2023-03-22","h":84.2,"l":78.5,"c":83.5,"v":1.5,"t":"u"},
{"d":"2023-04-08","h":85.0,"l":80.2,"c":82.8,"v":1.1,"t":"d"},
{"d":"2023-04-22","h":84.6,"l":77.4,"c":79.5,"v":1.6,"t":"d"},
{"d":"2023-05-08","h":83.0,"l":77.4,"c":79.1,"v":1.3,"t":"d"},
{"d":"2023-05-22","h":83.9,"l":78.0,"c":81.8,"v":1.2,"t":"u"},
{"d":"2023-06-08","h":85.5,"l":78.5,"c":84.9,"v":1.4,"t":"u"},
{"d":"2023-06-22","h":87.1,"l":81.6,"c":83.4,"v":1.5,"t":"d"},
{"d":"2023-07-08","h":86.0,"l":80.6,"c":85.2,"v":1.2,"t":"u"},
{"d":"2023-07-22","h":91.5,"l":84.0,"c":86.1,"v":1.7,"t":"u"},
{"d":"2023-08-08","h":87.2,"l":80.0,"c":81.4,"v":1.4,"t":"d"},
{"d":"2023-08-22","h":84.5,"l":76.3,"c":78.2,"v":1.3,"t":"d"},
{"d":"2023-09-08","h":82.8,"l":76.6,"c":78.0,"v":1.2,"t":"d"},
{"d":"2023-09-22","h":80.1,"l":74.2,"c":75.6,"v":1.5,"t":"d"},
{"d":"2023-10-08","h":79.6,"l":72.0,"c":73.3,"v":1.4,"t":"d"},
{"d":"2023-10-22","h":76.5,"l":68.8,"c":71.2,"v":1.9,"t":"d"},
{"d":"2023-11-08","h":78.2,"l":70.6,"c":77.5,"v":1.6,"t":"u"},
{"d":"2023-11-22","h":82.8,"l":76.0,"c":79.9,"v":1.3,"t":"u"},
{"d":"2023-12-08","h":87.5,"l":79.5,"c":86.8,"v":1.7,"t":"u"},
{"d":"2023-12-22","h":91.5,"l":85.0,"c":89.6,"v":1.4,"t":"u"},
{"d":"2024-01-08","h":90.2,"l":84.3,"c":85.4,"v":1.3,"t":"d"},
{"d":"2024-01-22","h":88.0,"l":80.6,"c":86.7,"v":2.7,"t":"u"},
{"d":"2024-02-08","h":90.4,"l":84.2,"c":89.6,"v":1.5,"t":"u"},
{"d":"2024-02-22","h":94.5,"l":87.8,"c":93.9,"v":1.7,"t":"u"},
{"d":"2024-03-08","h":101.2,"l":93.6,"c":99.8,"v":2.1,"t":"u"},
{"d":"2024-03-22","h":102.8,"l":96.8,"c":98.2,"v":1.6,"t":"d"},
{"d":"2024-04-08","h":99.0,"l":94.5,"c":95.6,"v":1.4,"t":"d"},
{"d":"2024-04-22","h":98.4,"l":93.0,"c":96.8,"v":1.8,"t":"u"},
{"d":"2024-05-02","h":98.65,"l":96.62,"c":97.5,"v":0.86,"t":"u"}
],
"yrs":[
{"yr":"2009","mid":"2009-09-01"},{"yr":"2010","mid":"2010-07-02"},{"yr":"2011","mid":"2011-07-02"},{"yr":"2012","mid":"2012-07-02"},{"yr":"2013","mid":"2013-07-02"},{"yr":"2014","mid":"2014-07-02"},{"yr":"2015","mid":"2015-07-02"},{"yr":"2016","mid":"2016-07-02"},{"yr":"2017","mid":"2017-07-02"},{"yr":"2018","mid":"2018-07-02"},{"yr":"2019","mid":"2019-07-02"},{"yr":"2020","mid":"2020-07-02"},{"yr":"2021","mid":"2021-07-02"},{"yr":"2022","mid":"2022-07-02"},{"yr":"2023","mid":"2023-07-02"},{"yr":"2024","mid":"2024-03-10"}
]
},
"vconcat":[
{
"width":773,"height":369,
"title":{"text":"US:EMN","anchor":"start","offset":-18,"dx":7,"font":"Liberation Sans","fontSize":13.3,"fontWeight":"normal","color":"black"},
"data":{"name":"px"},
"resolve":{"axis":{"y":"independent"}},
"encoding":{"x":{"field":"d","type":"temporal","scale":{"type":"utc","domain":[{"year":2009,"month":5,"date":3,"utc":true},{"year":2024,"month":5,"date":20,"utc":true}]},"axis":{"orient":"bottom","labels":false,"ticks":false,"domain":false,"grid":true,"title":null,"values":[{"year":2010,"month":1,"date":1,"utc":true},{"year":2011,"month":1,"date":1,"utc":true},{"year":2012,"month":1,"date":1,"utc":true},{"year":2013,"month":1,"date":1,"utc":true},{"year":2014,"month":1,"date":1,"utc":true},{"year":2015,"month":1,"date":1,"utc":true},{"year":2016,"month":1,"date":1,"utc":true},{"year":2017,"month":1,"date":1,"utc":true},{"year":2018,"month":1,"date":1,"utc":true},{"year":2019,"month":1,"date":1,"utc":true},{"year":2020,"month":1,"date":1,"utc":true},{"year":2021,"month":1,"date":1,"utc":true},{"year":2022,"month":1,"date":1,"utc":true},{"year":2023,"month":1,"date":1,"utc":true},{"year":2024,"month":1,"date":1,"utc":true}]}}},
"layer":[
{"mark":{"type":"rule","color":"black","strokeWidth":2.2},
 "encoding":{"y":{"field":"l","type":"quantitative","scale":{"domain":[30,149.7],"nice":false,"zero":false},"axis":{"orient":"right","values":[36,42,48,54,60,66,72,78,84,90,96,102,108,114,120,126,132,138,144],"format":".2f","grid":true,"ticks":false,"domain":false,"labelPadding":5,"labelOverlap":false,"labelFontSize":12.5,"title":null}},"y2":{"field":"h"}}},
{"transform":[{"filter":"datum.t == 'd'"}],
 "mark":{"type":"tick","orient":"horizontal","color":"#ff0000","size":3,"thickness":1.5},
 "encoding":{"y":{"field":"c","type":"quantitative","axis":null}}},
{"transform":[{"window":[{"op":"mean","field":"c","as":"m1"},{"op":"count","as":"n1"}],"frame":[-1,0],"sort":[{"field":"d"}]},{"filter":"datum.n1 >= 2"}],
 "mark":{"type":"line","color":"#ff00ff","strokeWidth":1.3},
 "encoding":{"y":{"field":"m1","type":"quantitative","axis":null}}},
{"transform":[{"window":[{"op":"mean","field":"c","as":"m2"},{"op":"count","as":"n2"}],"frame":[-9,0],"sort":[{"field":"d"}]},{"filter":"datum.n2 >= 10"}],
 "mark":{"type":"line","color":"#0000ff","strokeWidth":1.3},
 "encoding":{"y":{"field":"m2","type":"quantitative","axis":null}}}
]
},
{
"width":773,"height":106,
"title":{"text":"Volume","anchor":"start","offset":-18,"dx":7,"font":"Liberation Sans","fontSize":13.3,"fontWeight":"normal","color":"black"},
"data":{"name":"px"},
"mark":{"type":"bar","size":2.2},
"encoding":{
"x":{"field":"d","type":"temporal","scale":{"type":"utc","domain":[{"year":2009,"month":5,"date":3,"utc":true},{"year":2024,"month":5,"date":20,"utc":true}]},"axis":{"orient":"bottom","labels":false,"ticks":true,"tickSize":15,"tickColor":"black","tickWidth":1,"domain":true,"domainColor":"black","domainWidth":2,"grid":true,"title":null,"values":[{"year":2010,"month":1,"date":1,"utc":true},{"year":2011,"month":1,"date":1,"utc":true},{"year":2012,"month":1,"date":1,"utc":true},{"year":2013,"month":1,"date":1,"utc":true},{"year":2014,"month":1,"date":1,"utc":true},{"year":2015,"month":1,"date":1,"utc":true},{"year":2016,"month":1,"date":1,"utc":true},{"year":2017,"month":1,"date":1,"utc":true},{"year":2018,"month":1,"date":1,"utc":true},{"year":2019,"month":1,"date":1,"utc":true},{"year":2020,"month":1,"date":1,"utc":true},{"year":2021,"month":1,"date":1,"utc":true},{"year":2022,"month":1,"date":1,"utc":true},{"year":2023,"month":1,"date":1,"utc":true},{"year":2024,"month":1,"date":1,"utc":true}]}},
"y":{"field":"v","type":"quantitative","scale":{"domain":[-0.34,15.97],"nice":false,"zero":false},"axis":{"orient":"right","values":[4,8,12],"labelExpr":"format(datum.value, '.1f') + ' M'","grid":true,"ticks":false,"domain":false,"labelPadding":5,"title":null}},
"y2":{"datum":-0.34},
"color":{"field":"t","type":"nominal","scale":{"domain":["u","d"],"range":["#4db34d","#ff0000"]},"legend":null}
}
},
{
"width":773,"height":15,
"data":{"name":"yrs"},
"mark":{"type":"text","font":"Liberation Sans","fontSize":13,"color":"black","baseline":"middle","align":"center","dy":1},
"encoding":{
"x":{"field":"mid","type":"temporal","scale":{"type":"utc","domain":[{"year":2009,"month":5,"date":3,"utc":true},{"year":2024,"month":5,"date":20,"utc":true}]},"axis":{"orient":"bottom","labels":false,"ticks":false,"domain":false,"grid":true,"gridColor":"black","gridWidth":1,"title":null,"values":[{"year":2010,"month":1,"date":1,"utc":true},{"year":2011,"month":1,"date":1,"utc":true},{"year":2012,"month":1,"date":1,"utc":true},{"year":2013,"month":1,"date":1,"utc":true},{"year":2014,"month":1,"date":1,"utc":true},{"year":2015,"month":1,"date":1,"utc":true},{"year":2016,"month":1,"date":1,"utc":true},{"year":2017,"month":1,"date":1,"utc":true},{"year":2018,"month":1,"date":1,"utc":true},{"year":2019,"month":1,"date":1,"utc":true},{"year":2020,"month":1,"date":1,"utc":true},{"year":2021,"month":1,"date":1,"utc":true},{"year":2022,"month":1,"date":1,"utc":true},{"year":2023,"month":1,"date":1,"utc":true},{"year":2024,"month":1,"date":1,"utc":true}]}},
"text":{"field":"yr"}
}
}
]
}
